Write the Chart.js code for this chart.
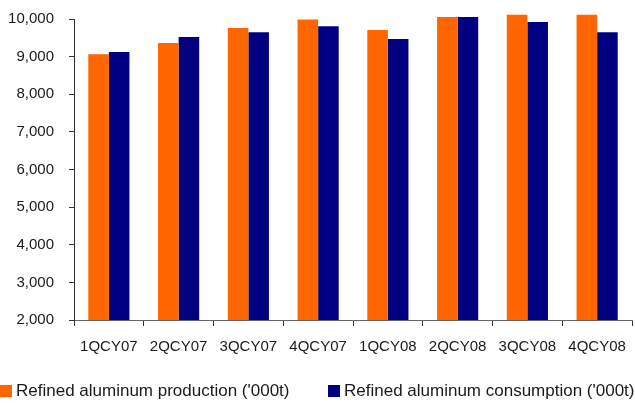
<!DOCTYPE html>
<html>
<head>
<meta charset="utf-8">
<script src="https://cdn.jsdelivr.net/npm/chart.js@4.4.1/dist/chart.umd.min.js"></script>
<style>
  html, body { margin: 0; padding: 0; background: #fff; }
  #wrap { width: 635px; height: 403px; }
</style>
</head>
<body>
<div id="wrap"><canvas id="c" width="635" height="403"></canvas></div>
<script>
// Quarterly refined aluminum balance ('000 tonnes)
const quarters = ['1QCY07', '2QCY07', '3QCY07', '4QCY07', '1QCY08', '2QCY08', '3QCY08', '4QCY08'];
const production = [9060, 9360, 9760, 9990, 9710, 10050, 10110, 10110];
const consumption = [9120, 9520, 9650, 9810, 9470, 10050, 9920, 9650];
const yTicks = [2000, 3000, 4000, 5000, 6000, 7000, 8000, 9000, 10000];

const FONT = '"Liberation Sans", Arial, sans-serif';
const TEXT = '#1a1a1a';

// Legend drawn along the bottom edge: one entry at the left, one at the middle
const bottomLegend = {
  id: 'bottomLegend',
  afterDraw(chart) {
    const ctx = chart.ctx;
    const starts = [0, 328];
    const y = 391;
    ctx.save();
    ctx.font = '17px ' + FONT;
    ctx.textBaseline = 'middle';
    ctx.textAlign = 'left';
    chart.data.datasets.forEach((ds, i) => {
      const x = starts[i];
      ctx.fillStyle = ds.backgroundColor;
      ctx.fillRect(x, y - 6, 12, 12);
      ctx.fillStyle = TEXT;
      ctx.fillText(ds.label, x + 16, y);
    });
    ctx.restore();
  }
};

new Chart(document.getElementById('c'), {
  type: 'bar',
  data: {
    labels: quarters,
    datasets: [
      { label: "Refined aluminum production ('000t)", data: production,
        backgroundColor: '#FF6600', borderWidth: 0,
        clip: { left: 0, right: 0, bottom: 0, top: 40 } },
      { label: "Refined aluminum consumption ('000t)", data: consumption,
        backgroundColor: '#000080', borderWidth: 0,
        clip: { left: 0, right: 0, bottom: 0, top: 40 } }
    ]
  },
  options: {
    responsive: false,
    animation: false,
    layout: { padding: { top: 19, right: 3, left: 0, bottom: 35 } },
    categoryPercentage: 0.59,
    barPercentage: 1,
    scales: {
      x: {
        afterFit: (axis) => { axis.paddingLeft = 0; axis.paddingRight = 0; },
        grid: { display: true, drawOnChartArea: false, drawTicks: true, tickLength: 6,
                color: '#333', offset: true },
        border: { display: true, color: '#666', width: 1 },
        ticks: { color: TEXT, font: { family: FONT, size: 15 }, padding: 12, maxRotation: 0 }
      },
      y: {
        min: 2000,
        max: 10000,
        afterBuildTicks: (axis) => { axis.ticks = yTicks.map(v => ({ value: v })); },
        afterFit: (axis) => { axis.width = 74; axis.paddingTop = 0; axis.paddingBottom = 0; },
        grid: { display: true, drawOnChartArea: false, drawTicks: true, tickLength: 5, color: '#333' },
        border: { display: true, color: '#333', width: 1 },
        ticks: {
          color: TEXT, font: { family: FONT, size: 15 }, padding: 15,
          callback: (v) => v.toLocaleString('en-US')
        }
      }
    },
    plugins: {
      tooltip: { enabled: false },
      legend: { display: false }
    }
  },
  plugins: [bottomLegend]
});
</script>
</body>
</html>
